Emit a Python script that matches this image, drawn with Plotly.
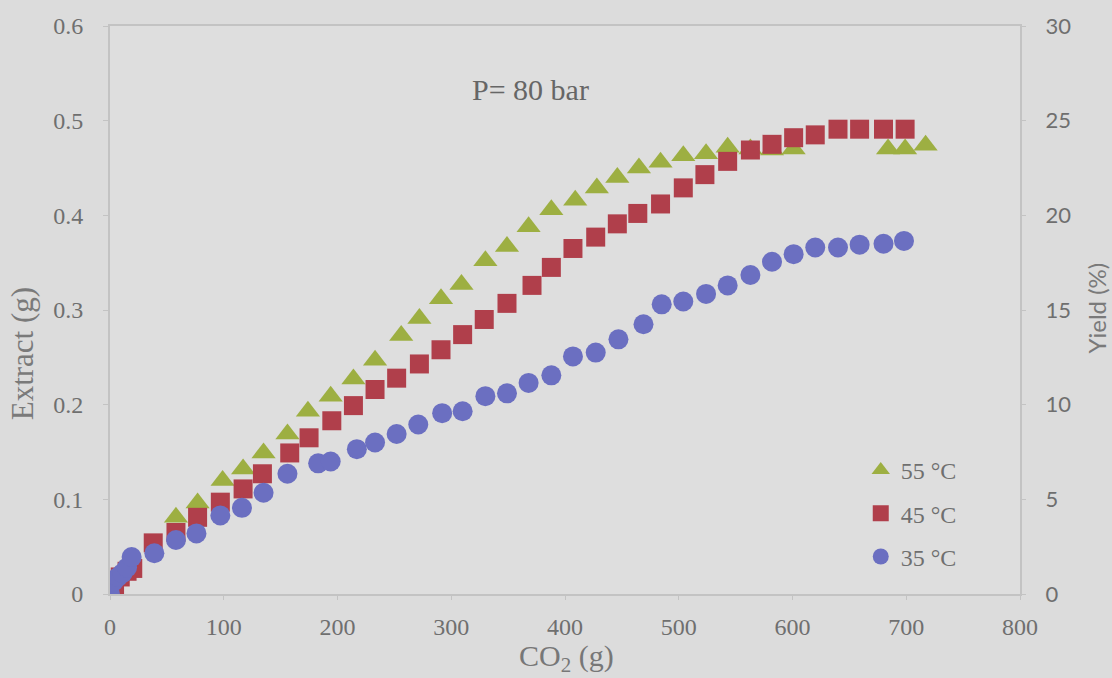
import plotly.graph_objects as go

# CO2 passed (g) and cumulative extract (g) at 80 bar
co2_55 = [0, 58, 77, 99, 117, 135, 156, 174, 194, 214, 233, 256, 272, 291, 309,
          330, 349, 368, 388, 409, 428, 446, 465, 484, 504, 524, 543, 563, 582,
          601, 684, 699, 717]
ext_55 = [0.0, 0.081, 0.096, 0.120, 0.132, 0.149, 0.169, 0.193, 0.209, 0.227,
          0.247, 0.273, 0.291, 0.312, 0.327, 0.352, 0.367, 0.388, 0.406, 0.416,
          0.429, 0.440, 0.450, 0.456, 0.463, 0.465, 0.472, 0.470, 0.469, 0.470,
          0.470, 0.470, 0.474]

co2_45 = [0, 4, 9, 15, 20, 38, 58, 77, 97, 117, 134, 158, 175, 195, 214, 233,
          252, 272, 291, 310, 329, 349, 371, 388, 407, 427, 446, 464, 484, 504,
          523, 543, 563, 582, 601, 620, 640, 659, 680, 699]
ext_45 = [0.0, 0.010, 0.018, 0.024, 0.027, 0.054, 0.065, 0.081, 0.097, 0.111,
          0.127, 0.149, 0.165, 0.183, 0.199, 0.216, 0.228, 0.243, 0.258, 0.274,
          0.290, 0.307, 0.326, 0.345, 0.365, 0.377, 0.391, 0.402, 0.412, 0.429,
          0.443, 0.457, 0.469, 0.475, 0.482, 0.485, 0.491, 0.491, 0.491, 0.491]

co2_35 = [0, 3, 7, 11, 15, 19, 39, 58, 76, 97, 116, 135, 156, 183, 194, 217,
          233, 252, 271, 292, 310, 330, 349, 368, 388, 407, 427, 447, 469, 485,
          504, 524, 543, 563, 582, 601, 620, 640, 659, 680, 698]
ext_35 = [0.0, 0.013, 0.018, 0.022, 0.028, 0.039, 0.043, 0.057, 0.064, 0.083,
          0.091, 0.107, 0.127, 0.138, 0.140, 0.153, 0.160, 0.169, 0.179, 0.191,
          0.193, 0.209, 0.212, 0.223, 0.231, 0.251, 0.255, 0.269, 0.285, 0.306,
          0.309, 0.317, 0.326, 0.337, 0.351, 0.359, 0.366, 0.366, 0.369, 0.370,
          0.373]

x_ticks = [0, 100, 200, 300, 400, 500, 600, 700, 800]
extract_ticks = [0, 0.1, 0.2, 0.3, 0.4, 0.5, 0.6]
extract_labels = ["0", "0.1", "0.2", "0.3", "0.4", "0.5", "0.6"]
yield_ticks = [0, 5, 10, 15, 20, 25, 30]

BG = "#dcdcdc"
TXT = "#6f6f6f"
AXL = "#c3c3c3"
SERIF = "Liberation Serif, Times New Roman, serif"
SANS = "Lato, Open Sans, sans-serif"

fig = go.Figure()
fig.add_trace(go.Scatter(
    x=co2_55, y=ext_55, mode="markers", name="55 °C", legendgroup="a",
    marker=dict(symbol="triangle-up", size=21, color="#9daf42"),
))
fig.add_trace(go.Scatter(
    x=co2_45, y=ext_45, mode="markers", name="45 °C", legendgroup="b",
    marker=dict(symbol="square", size=19, color="#b03f4b"),
))
fig.add_trace(go.Scatter(
    x=co2_35, y=ext_35, mode="markers", name="35 °C", legendgroup="c",
    marker=dict(symbol="circle", size=20, color="#6b6fc1"),
))
# empty trace so the secondary (yield) axis gets drawn
fig.add_trace(go.Scatter(x=[], y=[], yaxis="y2", showlegend=False,
                         hoverinfo="skip", mode="markers"))

fig.update_layout(
    width=1112, height=678,
    margin=dict(l=110, r=92, t=23, b=84),
    paper_bgcolor=BG, plot_bgcolor="#dedede",
    showlegend=True,
    legend=dict(
        x=0.825, y=0.257, xanchor="left", yanchor="top",
        bgcolor="rgba(0,0,0,0)", tracegroupgap=9,
        font=dict(family=SERIF, size=24, color=TXT),
    ),
    xaxis=dict(
        range=[0, 800], tickvals=x_ticks, showgrid=False, zeroline=False,
        showline=True, linecolor=AXL, linewidth=2, mirror=True,
        ticks="outside", ticklen=4, tickcolor=AXL,
        tickfont=dict(family=SERIF, size=24, color=TXT),
        ticklabelstandoff=6,
    ),
    yaxis=dict(
        range=[0, 0.6], tickvals=extract_ticks, ticktext=extract_labels,
        showgrid=False, zeroline=False,
        showline=True, linecolor=AXL, linewidth=2,
        ticks="outside", ticklen=5, tickcolor=AXL,
        tickfont=dict(family=SERIF, size=24, color=TXT),
        ticklabelstandoff=15,
    ),
    yaxis2=dict(
        range=[0, 30], tickvals=yield_ticks, overlaying="y", side="right",
        showgrid=False, zeroline=False,
        showline=True, linecolor=AXL, linewidth=2,
        ticks="outside", ticklen=4, tickcolor=AXL,
        tickfont=dict(family=SANS, size=22, color=TXT),
        ticklabelstandoff=15,
    ),
    annotations=[
        dict(text="P= 80 bar", xref="paper", yref="paper",
             x=(530 - 110) / 910, y=(594 - 68) / 571,
             showarrow=False, font=dict(family=SERIF, size=30, color="#666666")),
        dict(text="CO<sub>2</sub> (g)", xref="paper", yref="paper",
             x=(566 - 110) / 910, y=(594 - 658) / 571, yanchor="middle",
             showarrow=False, font=dict(family=SERIF, size=30, color="#777777")),
        dict(text="Extract (g)", xref="paper", yref="paper", textangle=-90,
             x=(22 - 110) / 910, y=(594 - 353) / 571, xanchor="center",
             showarrow=False, font=dict(family=SERIF, size=31, color="#7a7a7a")),
        dict(text="Yield (%)", xref="paper", yref="paper", textangle=-90,
             x=(1097 - 110) / 910, y=(594 - 307) / 571, xanchor="center",
             showarrow=False, font=dict(family=SANS, size=24, color="#7a7a7a")),
    ],
)

fig.write_html("out.html")
